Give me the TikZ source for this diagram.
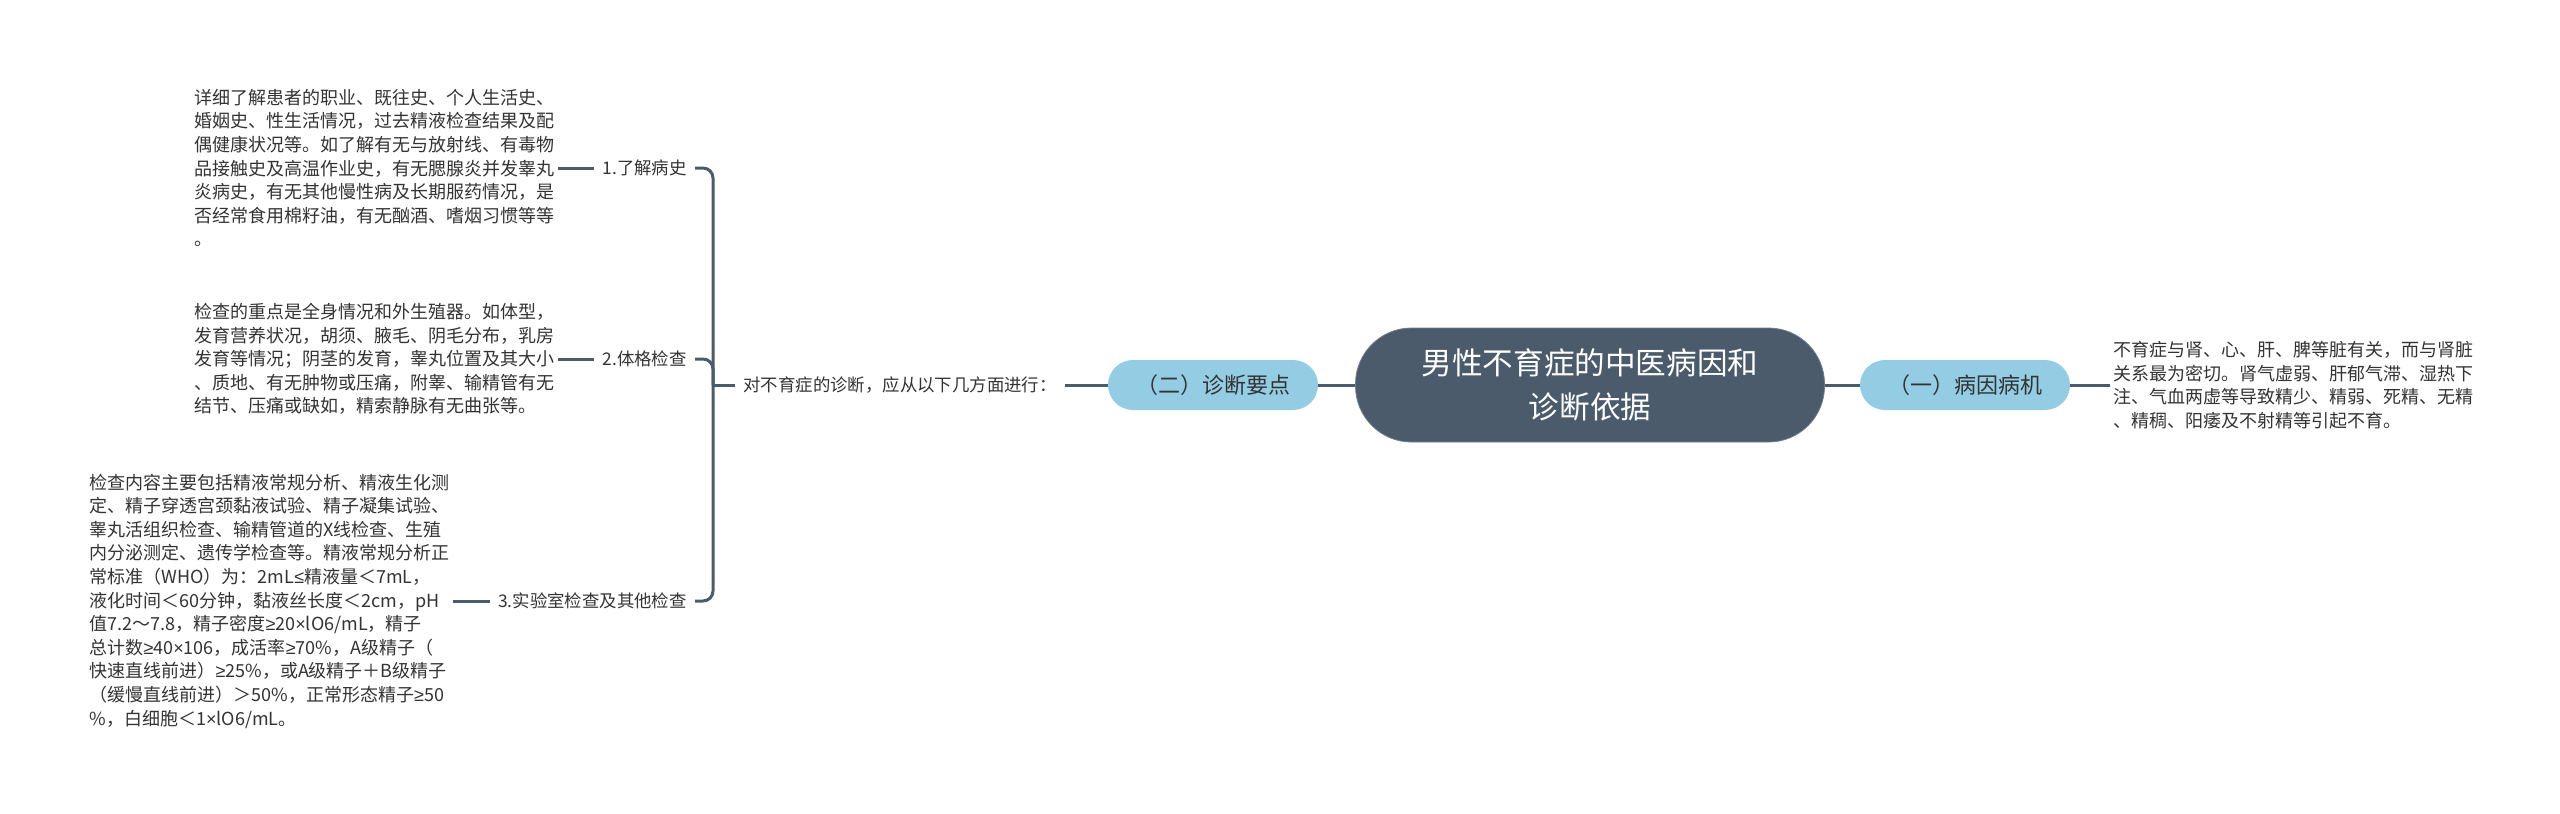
\documentclass[tikz,border=0pt]{standalone}
\usepackage{fontspec}
\setmainfont{Noto Sans CJK SC}
\newfontfamily\narrowsym{Liberation Sans}
\newcommand{\nsym}[1]{{\narrowsym #1}}
\usetikzlibrary{positioning}
\definecolor{slate}{HTML}{4B5B6B}
\definecolor{pill}{HTML}{94CCE4}
\definecolor{ink}{HTML}{333333}
\begin{document}
\begin{tikzpicture}[
            x=0.5pt, y=-0.5pt,
            root node/.style={rounded corners=28pt, fill=slate, draw=slate!80, minimum width=234.5pt, minimum height=57pt, text=white, align=center, font=\fontsize{15.3}{22.3}\selectfont},
            topic node/.style={rounded corners=12.5pt, fill=pill, minimum width=105pt, minimum height=25pt, text=ink, font=\fontsize{11}{13}\selectfont},
            branch label/.style={inner sep=4pt, text=ink, font=\fontsize{8.7}{11}\selectfont},
            leaf text/.style={inner sep=1.5pt, text=ink, align=left, font=\fontsize{9}{11.8}\selectfont},
            link/.style={draw=slate, line width=1.5pt},
            bracket/.style={link, rounded corners=5pt}
        ]
        \useasboundingbox (0,0) rectangle (2560,814);
        
        % Center node
        \node[root node] (root) at (1590,385) {男性不育症的中医病因和\\诊断依据};
        
        % Right side
        \node[topic node] (T-1) at (1965,385) {（一）病因病机};
        \node[leaf text, anchor=west] (R-1) at (2110,385) {不育症与肾、心、肝、脾等脏有关，而与肾脏\\关系最为密切。肾气虚弱、肝郁气滞、湿热下\\注、气血两虚等导致精少、精弱、死精、无精\\、精稠、阳痿及不射精等引起不育。};
        
        % Left side
        \node[topic node] (T-2) at (1213,385) {（二）诊断要点};
        \node[branch label, anchor=west] (M) at (735,385) {对不育症的诊断，应从以下几方面进行：};
        \coordinate (bus) at (713,385);
        
        % Diagnosis items
        \node[branch label, anchor=east] (C-1) at (695,168) {1.了解病史};
        \node[branch label, anchor=east] (C-2) at (695,359) {2.体格检查};
        \node[branch label, anchor=east] (C-3) at (695,601) {3.实验室检查及其他检查};
        
        % Details
        \node[leaf text, anchor=east] (L-1) at (558,168) {详细了解患者的职业、既往史、个人生活史、\\婚姻史、性生活情况，过去精液检查结果及配\\偶健康状况等。如了解有无与放射线、有毒物\\品接触史及高温作业史，有无腮腺炎并发睾丸\\炎病史，有无其他慢性病及长期服药情况，是\\否经常食用棉籽油，有无酗酒、嗜烟习惯等等\\。};
        \node[leaf text, anchor=east] (L-2) at (558,359) {检查的重点是全身情况和外生殖器。如体型，\\发育营养状况，胡须、腋毛、阴毛分布，乳房\\发育等情况；阴茎的发育，睾丸位置及其大小\\、质地、有无肿物或压痛，附睾、输精管有无\\结节、压痛或缺如，精索静脉有无曲张等。};
        \node[leaf text, anchor=east] (L-3) at (453,601) {检查内容主要包括精液常规分析、精液生化测\\定、精子穿透宫颈黏液试验、精子凝集试验、\\睾丸活组织检查、输精管道的X线检查、生殖\\内分泌测定、遗传学检查等。精液常规分析正\\常标准（WHO）为：2mL\nsym{≤}精液量＜7mL，\\液化时间＜60分钟，黏液丝长度＜2cm，pH\\值7.2～7.8，精子密度\nsym{≥}20\nsym{×}lO6/mL，精子\\总计数\nsym{≥}40\nsym{×}106，成活率\nsym{≥}70\%，A级精子（\\快速直线前进）\nsym{≥}25\%，或A级精子＋B级精子\\（缓慢直线前进）＞50\%，正常形态精子\nsym{≥}50\\\%，白细胞＜1\nsym{×}lO6/mL。};
        
        % Connections
        \draw[link] (root) -- (T-1);
        \draw[link] (T-1) -- (R-1);
        \draw[link] (root) -- (T-2);
        \draw[link] (T-2) -- (M);
        \draw[link] (bus) -- (M.west);
        \foreach \i in {1,2,3}
            \draw[bracket] (C-\i.east) -| (bus);
        \foreach \i in {1,2,3}
            \draw[link] (L-\i.east) -- (C-\i.west);
        
        \end{tikzpicture}
\end{document}
